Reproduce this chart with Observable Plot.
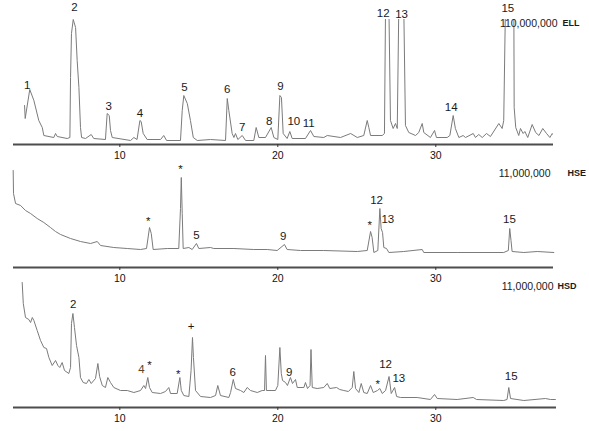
<!DOCTYPE html>
<html><head><meta charset="utf-8">
<script src="https://cdn.jsdelivr.net/npm/d3@7"></script>
<script src="https://cdn.jsdelivr.net/npm/@observablehq/plot@0.6"></script>
<style>
html,body{margin:0;padding:0;background:#fff;}
#chart{position:relative;width:589px;height:431px;overflow:hidden;font-family:"Liberation Sans",Arial,sans-serif;}
#chart > div{position:absolute;left:0;}
</style></head><body><div id="chart"></div>
<script>
// retention time ticks (min)
const timeTicks = [10, 20, 30];

// ELL trace: retention time (min) and relative intensity (full scale = 125)
const ELL_t = [3.97,4.01,4.30,4.56,4.87,5.09,5.19,5.82,5.93,6.04,
6.67,6.84,6.88,6.94,7.05,7.20,7.30,7.41,7.51,7.58,
7.83,8.19,8.35,9.09,9.20,9.33,9.41,9.52,10.68,10.89,
11.09,11.27,11.35,11.48,11.73,12.58,12.78,12.96,13.84,13.95,
14.05,14.27,14.47,14.65,14.90,15.74,16.69,16.80,16.90,17.11,
17.22,17.32,17.47,17.75,17.96,18.48,18.63,18.80,19.22,19.58,
19.75,20.00,20.13,20.23,20.34,20.59,20.76,20.91,21.75,22.07,
22.28,22.91,23.13,23.97,24.61,25.03,25.44,25.66,25.76,25.87,
26.61,26.75,26.82,27.03,27.13,27.30,27.45,27.56,27.66,27.97,
28.08,28.29,28.72,28.92,29.14,29.24,29.66,29.92,30.04,30.72,
30.89,31.10,31.24,31.46,31.73,31.88,32.37,32.51,32.72,32.94,
33.21,33.46,33.99,34.20,34.30,34.41,34.94,34.96,35.06,35.25,
35.36,35.53,35.64,35.82,36.10,36.32,36.53,36.77,37.01,37.22,
37.37,37.47];
const ELL_h = [39,26,55,44,24,17,9,7,11,8,
6,7,67,111,125,117,84,57,17,7,
6,10,6,5,31,29,14,7,4,7,
5,24,23,11,5,5,9,4,4,34,
49,41,24,7,4,5,4,46,34,11,
7,11,5,9,4,4,17,7,7,17,
7,5,49,47,11,6,13,6,6,14,
8,7,9,7,11,7,9,24,17,9,
9,11,140,140,24,16,21,16,140,140,
19,12,9,12,21,12,7,14,7,7,
9,29,16,7,9,7,11,7,10,7,
11,8,21,16,24,140,140,37,17,9,
16,11,13,7,20,12,9,16,11,7,
11,9];
const ELL_labels = ["1","2","3","4","5","6","7","8","9","10","11","12","13","14","15"];
const ELL_label_t = [4.14,7.13,9.30,11.27,14.09,16.80,17.75,19.46,20.17,21.01,21.96,26.67,27.83,30.97,34.56];
const ELL_label_h = [59,137,38,31,57,55,17,23,58,23,21,131,130,37,136];

// HSE trace (full scale = 100)
const HSE_t = [3.25,3.27,3.40,3.72,4.03,4.35,4.77,5.19,5.61,5.93,
6.25,6.88,7.51,8.15,8.57,8.78,9.62,10.47,11.31,11.69,
11.88,11.99,12.11,13.00,13.73,13.84,13.89,13.95,14.01,14.37,
14.58,14.85,15.00,15.74,15.95,17.22,18.48,19.33,19.96,20.42,
20.59,21.44,22.91,25.03,25.66,25.87,25.97,26.08,26.33,26.46,
26.54,26.63,26.71,26.88,27.03,27.97,29.14,29.24,31.35,34.30,
34.59,34.68,34.76,34.83,35.57,36.42,37.47];
const HSE_h = [97,74,64,62,57,54,49,45,40,36,
33,29,26,24,26,22,20,19,18,19,
40,34,18,19,19,59,90,54,19,20,
18,24,19,20,19,19,18,18,17,23,
18,17,17,16,17,36,30,15,17,59,
39,35,20,19,15,16,18,15,15,15,
17,39,27,16,15,16,15];
const HSE_labels = ["*","*","5","9","*","12","13","15"];
const HSE_label_t = [11.80,13.84,14.85,20.34,25.82,26.25,26.96,34.66];
const HSE_label_h = [46,98,32,31,42,67,48,48];

// HSD trace (full scale = 125)
const HSD_t = [3.82,3.89,4.03,4.24,4.35,4.46,4.56,4.77,4.98,5.19,
5.36,5.51,5.72,5.93,6.08,6.20,6.35,6.50,6.77,6.88,
6.94,7.03,7.13,7.26,7.41,7.51,7.68,7.89,8.04,8.19,
8.46,8.61,8.72,8.89,9.09,9.24,9.41,9.62,10.04,10.47,
10.89,11.31,11.52,11.63,11.77,11.88,12.05,12.58,12.89,13.10,
13.21,13.63,13.80,13.89,14.05,14.37,14.51,14.60,14.66,14.79,
15.11,15.74,16.06,16.20,16.37,16.90,17.01,17.18,17.32,17.64,
17.85,18.06,18.27,18.70,19.01,19.16,19.22,19.28,19.85,20.00,
20.13,20.22,20.30,20.49,20.61,20.80,20.93,21.12,21.23,21.65,
21.75,21.88,22.04,22.10,22.18,22.49,22.91,23.13,23.29,23.72,
23.92,24.18,24.47,24.71,24.81,24.92,25.13,25.28,25.44,25.66,
25.87,26.04,26.31,26.46,26.61,26.82,27.04,27.18,27.39,27.52,
27.77,28.82,29.66,29.92,30.09,31.35,32.37,32.58,34.30,34.51,
34.62,34.73,35.57,36.94,37.26,37.57];
const HSD_h = [125,104,90,88,85,90,87,77,67,60,
59,50,42,47,42,40,45,37,34,40,
84,94,80,62,50,30,25,24,28,24,
29,44,31,22,20,30,25,20,17,17,
15,17,22,19,30,20,15,14,16,20,
14,14,30,17,12,11,37,70,50,17,
11,10,12,22,12,10,15,28,19,17,
15,20,17,15,17,17,52,17,17,22,
60,34,27,25,22,30,24,28,20,20,
25,19,22,58,20,19,20,24,19,20,
18,17,16,20,36,19,15,24,15,14,
22,15,17,19,14,17,31,14,20,11,
10,10,8,13,9,8,10,8,7,8,
20,9,7,9,8,8];
const HSD_labels = ["2","4","*","*","+","6","9","*","12","13","15"];
const HSD_label_t = [7.05,11.37,11.88,13.69,14.51,17.15,20.72,26.33,26.82,27.66,34.77];
const HSD_label_h = [103,38,42,33,81,35,35,23,43,29,31];

const scaleTexts = ["110,000,000", "11,000,000", "11,000,000"];
const sampleNames = ["ELL", "HSE", "HSD"];

const FONT = '"Liberation Sans", Arial, sans-serif';
const xDomain = [3.27, 37.45];

function makePanel(cfg) {
  const trace = cfg.t.map((t, i) => ({t, h: cfg.h[i]}));
  const labels = cfg.labels.map((s, i) => ({s, t: cfg.lt[i], h: cfg.lh[i]}));
  return Plot.plot({
    width: 589,
    height: cfg.height,
    marginLeft: 13,
    marginRight: 36,
    marginTop: cfg.marginTop,
    marginBottom: cfg.marginBottom,
    x: {domain: xDomain},
    y: {domain: cfg.yDomain, axis: null},
    style: {background: "transparent", fontFamily: FONT, overflow: "visible"},
    marks: [
      Plot.ruleY([0], {x1: () => xDomain[0], x2: () => cfg.axisEnd, stroke: "#4d4d4d", strokeWidth: 2}),
      Plot.axisX({ticks: timeTicks, tickSize: 3, tickPadding: 4, fontSize: 10.5, stroke: "#333", fill: "#111", label: null, tickFormat: d => String(d)}),
      Plot.line(trace, {x: "t", y: "h", stroke: "#7b7b7b", strokeWidth: 1, clip: cfg.clip}),
      Plot.text(labels, {x: "t", y: "h", text: "s", fontSize: 11.5, fill: d => d.s === "4" && cfg.name === "HSD" ? "#5e4520" : "#1a1a1a"}),
      Plot.text([cfg.scaleText], {frameAnchor: "top-right", lineAnchor: "middle", textAnchor: "end", dx: cfg.sdx, dy: cfg.sdy, fontSize: 10.5, fill: "#1a1a1a"}),
      Plot.text([cfg.name], {frameAnchor: "top-right", lineAnchor: "middle", textAnchor: "start", dx: cfg.ndx, dy: cfg.sdy, fontSize: 9, fontWeight: "bold", fill: "#1a1a1a"})
    ]
  });
}

const panels = [
  {top: 0, name: sampleNames[0], scaleText: scaleTexts[0], t: ELL_t, h: ELL_h, labels: ELL_labels, lt: ELL_label_t, lh: ELL_label_h,
   height: 165, marginTop: 19, marginBottom: 21, yDomain: [0, 125], clip: true, axisEnd: 37.45, sdx: 4, sdy: 4, ndx: 9},
  {top: 160, name: sampleNames[1], scaleText: scaleTexts[1], t: HSE_t, h: HSE_h, labels: HSE_labels, lt: HSE_label_t, lh: HSE_label_h,
   height: 125, marginTop: 7, marginBottom: 18, yDomain: [0, 100], clip: false, axisEnd: 37.45, sdx: -3, sdy: 6, ndx: 14},
  {top: 280, name: sampleNames[2], scaleText: scaleTexts[2], t: HSD_t, h: HSD_h, labels: HSD_labels, lt: HSD_label_t, lh: HSD_label_h,
   height: 151, marginTop: 2, marginBottom: 24, yDomain: [0, 125], clip: false, axisEnd: 37.64, sdx: 0, sdy: 4, ndx: 4}
];

const root = document.getElementById("chart");
for (const cfg of panels) {
  const wrap = document.createElement("div");
  wrap.style.top = cfg.top + "px";
  wrap.appendChild(makePanel(cfg));
  root.appendChild(wrap);
}
</script></body></html>
